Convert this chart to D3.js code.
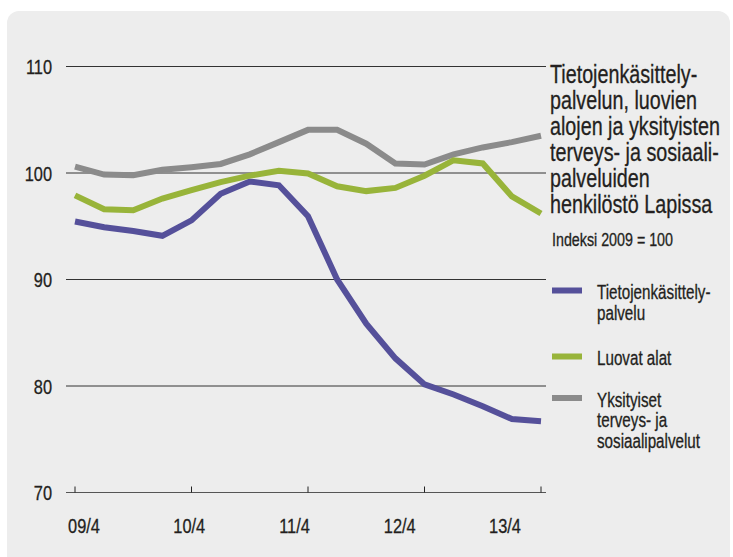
<!DOCTYPE html>
<head>
<meta charset="utf-8">
<script src="https://d3js.org/d3.v7.min.js"></script>
</head>
<style>
body { margin: 0; background: #fff; }
text {
  font-family: "Liberation Sans", Arial, sans-serif;
  fill: #231f20;
  stroke: #231f20;
  stroke-width: 0.3px;
}
.grid { stroke: #333; stroke-width: 1px; }
.line { fill: none; stroke-width: 6px; stroke-linejoin: miter; }
</style>
<body>
<script>
// quarterly periods (year/month)
var periods = ["09/4","09/7","09/10","10/1","10/4","10/7","10/10","11/1","11/4",
               "11/7","11/10","12/1","12/4","12/7","12/10","13/1","13/4"];
var tickPeriods = ["09/4","10/4","11/4","12/4","13/4"];
var yTicks = [70, 80, 90, 100, 110];

var tieto    = [95.45, 94.9, 94.55, 94.1, 95.55, 98.05, 99.2, 98.85, 95.95,
                90.0, 85.85, 82.6, 80.15, 79.2, 78.1, 76.9, 76.7];
var luovat   = [97.9, 96.6, 96.5, 97.6, 98.4, 99.15, 99.75, 100.2, 99.95,
                98.75, 98.3, 98.6, 99.75, 101.2, 100.9, 97.8, 96.2];
var yksityis = [100.6, 99.85, 99.8, 100.3, 100.55, 100.85, 101.75, 102.9, 104.05,
                104.05, 102.75, 100.9, 100.8, 101.75, 102.4, 102.9, 103.5];

var seriesNames = [["Tietojenkäsittely-", "palvelu"], ["Luovat alat"], ["Yksityiset", "terveys- ja", "sosiaalipalvelut"]];
var seriesColors = ["#55509a", "#98b43a", "#8b8b8b"];
var titleLines = ["Tietojenkäsittely-", "palvelun, luovien", "alojen ja yksityisten",
                  "terveys- ja sosiaali-", "palveluiden", "henkilöstö Lapissa"];
var subtitle = "Indeksi 2009 = 100";

var width = 733, height = 557;
var narrow = 0.78; // squeeze Liberation Sans to look like a condensed face

var svg = d3.select("body").append("svg")
    .attr("width", width)
    .attr("height", height);

// grey panel
svg.append("rect")
    .attr("x", 7).attr("y", 11)
    .attr("width", 723).attr("height", 570)
    .attr("rx", 12)
    .attr("fill", "#ededed");

// text helper: condensed text block, one tspan per line
function addText(x0, y0, size, anchor, lines, lh) {
  var t = svg.append("text")
      .attr("transform", "translate(" + x0 + "," + y0 + ") scale(" + narrow + ",1)")
      .attr("text-anchor", anchor)
      .style("font-size", size + "px");
  t.selectAll("tspan")
      .data(lines)
    .enter().append("tspan")
      .attr("x", 0)
      .attr("dy", function(d, i) { return i ? lh : 0; })
      .text(function(d) { return d; });
  return t;
}

var x = d3.scalePoint().domain(periods).range([75, 541]);
var xLab = d3.scalePoint().domain(tickPeriods).range([84, 505]);
var y = d3.scaleLinear().domain([70, 110]).range([492.5, 66.5]);

// gridlines
svg.selectAll(".grid")
    .data(yTicks.filter(function(d) { return d > 70; }))
  .enter().append("line")
    .attr("class", "grid")
    .attr("x1", 66).attr("x2", 546)
    .attr("y1", function(d) { return y(d); })
    .attr("y2", function(d) { return y(d); });

// y labels
yTicks.forEach(function(d) {
  addText(52, y(d) + 7.5, 21, "end", [d], 0);
});

// x axis
var xAxis = svg.append("g")
    .attr("transform", "translate(0," + y(70) + ")");
xAxis.append("line")
    .attr("x1", 66).attr("x2", 546)
    .attr("stroke", "#555").attr("stroke-width", 1.2);
xAxis.selectAll(".tick")
    .data(tickPeriods)
  .enter().append("line")
    .attr("x1", function(d) { return x(d); })
    .attr("x2", function(d) { return x(d); })
    .attr("y1", -6).attr("y2", 0)
    .attr("stroke", "#222").attr("stroke-width", 1);
tickPeriods.forEach(function(d) {
  addText(xLab(d), y(70) + 40, 21, "middle", [d], 0);
});

// lines
var series = [tieto, luovat, yksityis];
var line = d3.line()
    .x(function(d, i) { return x(periods[i]); })
    .y(function(d) { return y(d); });
[0, 2, 1].forEach(function(k) {
  svg.append("path")
      .datum(series[k])
      .attr("class", "line")
      .attr("stroke", seriesColors[k])
      .attr("d", line);
});

// title
addText(550, 83, 25.3, "start", titleLines, 26);
addText(552, 246, 18.3, "start", [subtitle], 0);

// legend
var legendY = [290.5, 356.5, 398];
seriesNames.forEach(function(names, k) {
  svg.append("rect")
      .attr("x", 552).attr("y", legendY[k] - 3)
      .attr("width", 30).attr("height", 6)
      .attr("fill", seriesColors[k]);
  addText(597, legendY[k] + 8.5, 19.5, "start", names, 21);
});
</script>
</body>
